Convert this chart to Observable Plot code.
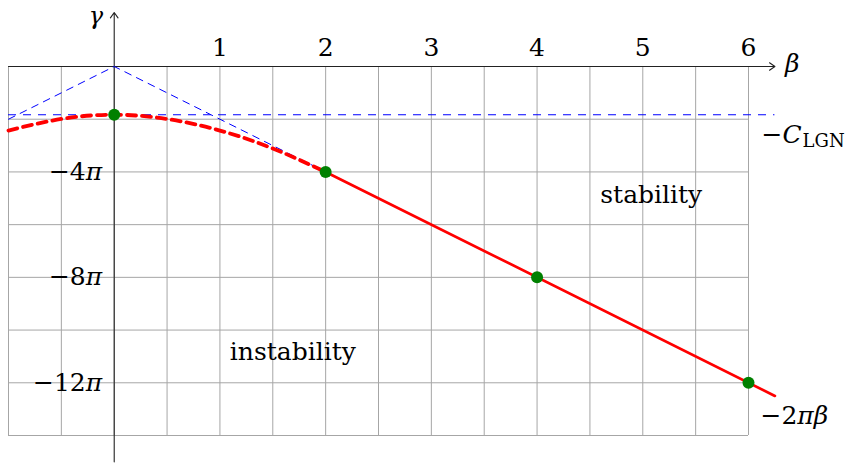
<!DOCTYPE html>
<html>
<head>
<meta charset="utf-8">
<script src="https://cdn.jsdelivr.net/npm/d3@7"></script>
<script src="https://cdn.jsdelivr.net/npm/@observablehq/plot@0.6"></script>
<style>
  html, body { margin: 0; padding: 0; background: #fff; }
  svg { display: block; }
</style>
</head>
<body>
<div id="chart"></div>
<script>
// ---- data (γ expressed in units of π) ----
const betaTicks = [1, 2, 3, 4, 5, 6];
const betaTickLabels = ["1", "2", "3", "4", "5", "6"];
const gammaTicks = [-4, -8, -12];
const gammaTickLabels = ["−4π", "−8π", "−12π"];
const gridBeta = [-1, -0.5, 0, 0.5, 1, 1.5, 2, 2.5, 3, 3.5, 4, 4.5, 5, 5.5, 6];
const gridGamma = [0, -2, -4, -6, -8, -10, -12, -14];
const cLGN = 1.83;                                   // C_LGN / π
const curveBeta  = [-1, -0.5, 0, 0.5, 1, 1.5, 2];    // dashed red curve
const curveGamma = [-2.43, -1.99, -1.83, -1.99, -2.43, -3.11, -4];
const lineBeta  = [2, 6.25];                          // solid red line −2πβ
const lineGamma = [-4, -12.5];
const envBeta  = [-1, 0, 2];                          // blue dashed −2π|β|
const envGamma = [-2, 0, -4];
const dotBeta  = [0, 2, 4, 6];
const dotGamma = [-1.83, -4, -8, -12];
const regionLabels = ["stability", "instability"];
const regionBeta  = [5.08, 1.69];
const regionGamma = [-5.16, -11.12];

const FONT = "DejaVu Serif";
const FS = 25;

const curve = curveBeta.map((b, i) => ({b, g: curveGamma[i]}));
const line = lineBeta.map((b, i) => ({b, g: lineGamma[i]}));
const env = envBeta.map((b, i) => ({b, g: envGamma[i]}));
const dots = dotBeta.map((b, i) => ({b, g: dotGamma[i]}));
const regions = regionLabels.map((t, i) => ({t, b: regionBeta[i], g: regionGamma[i]}));

const chart = Plot.plot({
  width: 853,
  height: 465,
  marginLeft: 8,
  marginRight: 105,
  marginTop: 66,
  marginBottom: 30,
  x: {domain: [-1, 6], axis: null},
  y: {domain: [-14, 0], axis: null},
  style: {fontFamily: FONT, fontSize: FS + "px", background: "white"},
  marks: [
    // grid
    Plot.ruleX(gridBeta, {x: d => d, y1: -14, y2: 0, stroke: "#a6a6a6", strokeWidth: 1}),
    Plot.ruleY(gridGamma, {y: d => d, x1: -1, x2: 6, stroke: "#a6a6a6", strokeWidth: 1}),
    // axes with arrows
    Plot.arrow([{x1: -1, y1: 0, x2: 6.25, y2: 0}], {x1: "x1", y1: "y1", x2: "x2", y2: "y2", stroke: "#222", strokeWidth: 1.1, headLength: 9, headAngle: 70}),
    Plot.arrow([{x1: 0, y1: -15, x2: 0, y2: 2.05}], {x1: "x1", y1: "y1", x2: "x2", y2: "y2", stroke: "#222", strokeWidth: 1.1, headLength: 9, headAngle: 70}),
    // blue dashed −2π|β|
    Plot.line(env, {x: "b", y: "g", stroke: "#0000ff", strokeWidth: 1, strokeDasharray: "7,6"}),
    // −C_LGN horizontal
    Plot.ruleY([-cLGN], {y: d => d, x1: -1, x2: 6.25, stroke: "#0000ff", strokeWidth: 1.1, strokeDasharray: "8,7"}),
    // dashed red curve
    Plot.line(curve, {x: "b", y: "g", curve: "natural", stroke: "#ff0000", strokeWidth: 3.8, strokeDasharray: "9,6"}),
    // solid red line
    Plot.line(line, {x: "b", y: "g", stroke: "#ff0000", strokeWidth: 2.7}),
    // green points
    Plot.dot(dots, {x: "b", y: "g", r: 6, fill: "#008000", stroke: null}),
    // tick labels
    Plot.text(betaTicks, {x: d => d, y: 0, text: (d, i) => betaTickLabels[i], dy: -11, lineAnchor: "bottom", fontSize: FS, fill: "black"}),
    Plot.text(gammaTicks, {x: 0, y: d => d, text: (d, i) => gammaTickLabels[i], dx: -12, textAnchor: "end", lineAnchor: "middle", fontSize: FS, fill: "black"}),
    // axis names
    Plot.text(["γ"], {x: 0, y: 0, text: d => d, dx: -11, dy: -43, textAnchor: "end", lineAnchor: "bottom", fontSize: 24, fill: "black"}),
    Plot.text(["β"], {x: 6.25, y: 0, text: d => d, dx: 10, dy: 5, textAnchor: "start", lineAnchor: "bottom", fontSize: FS, fill: "black"}),
    // curve labels
    Plot.text(["−C_LGN"], {x: 6, y: -cLGN, text: d => d, dx: 13, dy: 28, textAnchor: "start", lineAnchor: "bottom", fontSize: FS, fill: "black"}),
    Plot.text(["−2πβ"], {x: 6, y: -12, text: d => d, dx: 12, dy: 41, textAnchor: "start", lineAnchor: "bottom", fontSize: FS, fill: "black"}),
    // region labels
    Plot.text(regions, {x: "b", y: "g", text: "t", textAnchor: "middle", lineAnchor: "bottom", fontSize: FS, fill: "black"})
  ]
});

// Render math letters in italic, subscript after "_"
const italicSet = new Set(["γ", "β", "π", "C"]);
d3.select(chart).selectAll("text").each(function() {
  const el = this;
  const s = el.textContent;
  if (!/[γβπC_]/.test(s)) return;
  let base = s, sub = null;
  if (s.includes("_")) { [base, sub] = s.split("_"); }
  while (el.firstChild) el.removeChild(el.firstChild);
  const ns = "http://www.w3.org/2000/svg";
  let buf = "";
  const flush = () => { if (buf) { el.appendChild(document.createTextNode(buf)); buf = ""; } };
  for (const ch of base) {
    if (italicSet.has(ch)) {
      flush();
      const t = document.createElementNS(ns, "tspan");
      t.setAttribute("font-style", "italic");
      t.textContent = ch;
      el.appendChild(t);
    } else buf += ch;
  }
  flush();
  if (sub) {
    const t = document.createElementNS(ns, "tspan");
    t.setAttribute("font-size", "18");
    t.setAttribute("dy", "4");
    t.setAttribute("dx", "1");
    t.textContent = sub;
    el.appendChild(t);
  }
});

document.getElementById("chart").appendChild(chart);
</script>
</body>
</html>
